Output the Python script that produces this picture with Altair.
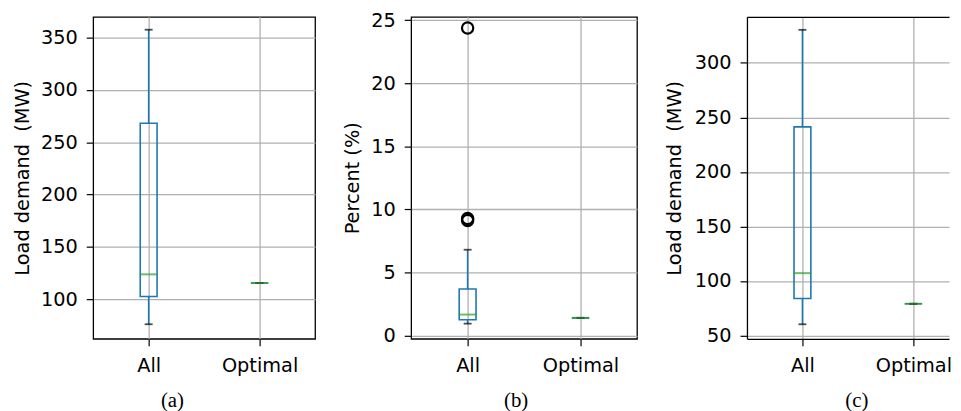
import altair as alt
import pandas as pd

labels = ["All", "Optimal"]

# panel (a): load demand (MW)
a_low = [76.0, 115.4]
a_q1 = [102.5, 115.4]
a_med = [123.7, 115.4]
a_q3 = [268.2, 115.4]
a_high = [357.6, 115.4]
a_domain = [62.1, 369.9]
a_ticks = [100, 150, 200, 250, 300, 350]

# panel (b): percent (%)
b_low = [0.94, 1.40]
b_q1 = [1.25, 1.40]
b_med = [1.66, 1.40]
b_q3 = [3.69, 1.40]
b_high = [6.80, 1.40]
b_out_labels = ["All", "All", "All"]
b_out = [9.12, 9.28, 24.38]
b_domain = [-0.26, 25.26]
b_ticks = [0, 5, 10, 15, 20, 25]

# panel (c): load demand (MW)
c_low = [60.3, 79.1]
c_q1 = [83.9, 79.1]
c_med = [107.2, 79.1]
c_q3 = [241.3, 79.1]
c_high = [330.3, 79.1]
c_domain = [47.0, 342.2]
c_ticks = [50, 100, 150, 200, 250, 300]

BLUE = "#1f77b4"
GREEN = "#2ca02c"
FONT = "DejaVu Sans"


def panel(low, q1, med, q3, high, out_labels, out_vals, domain, ticks,
          ytitle, caption, width, height, dx, title_pad, xscale, framed):
    df = pd.DataFrame({"label": labels, "low": low, "q1": q1, "med": med,
                       "q3": q3, "high": high})
    xenc = alt.X("label:N", sort=labels, scale=xscale,
                 axis=alt.Axis(title=None, labelAngle=0, grid=True,
                               orient="bottom", labelPadding=11,
                               domain=not framed, domainColor="black",
                               domainWidth=1.3))
    yscale = alt.Scale(domain=domain, nice=False, zero=False)
    yaxis = alt.Axis(title=ytitle, values=ticks, grid=True,
                     titlePadding=title_pad, domain=not framed,
                     domainColor="black", domainWidth=1.3)
    base = alt.Chart(df)
    whisk_hi = base.mark_rule(color=BLUE, strokeWidth=1.6).encode(
        x=xenc, y=alt.Y("q3:Q", scale=yscale, axis=yaxis), y2="high:Q")
    whisk_lo = base.mark_rule(color=BLUE, strokeWidth=1.6).encode(
        x=xenc, y=alt.Y("low:Q", scale=yscale, axis=yaxis), y2="q1:Q")
    box = base.mark_bar(fill="transparent", stroke=BLUE, strokeWidth=1.6,
                        size=17).encode(
        x=xenc, y=alt.Y("q1:Q", scale=yscale, axis=yaxis), y2="q3:Q")
    cap_hi = base.mark_tick(color="black", thickness=1.8, size=8,
                            orient="horizontal").encode(
        x=xenc, y=alt.Y("high:Q", scale=yscale, axis=yaxis))
    cap_lo = base.mark_tick(color="black", thickness=1.8, size=8,
                            orient="horizontal").encode(
        x=xenc, y=alt.Y("low:Q", scale=yscale, axis=yaxis))
    median = base.mark_tick(color=GREEN, thickness=2, size=18,
                            orient="horizontal").encode(
        x=xenc, y=alt.Y("med:Q", scale=yscale, axis=yaxis))
    layers = [whisk_hi, whisk_lo, box, cap_hi, cap_lo, median]
    if out_vals:
        odf = pd.DataFrame({"label": out_labels, "val": out_vals})
        fl = alt.Chart(odf).mark_point(shape="circle", filled=False,
                                       color="black", size=130,
                                       strokeWidth=2.2, opacity=1).encode(
            x=xenc, y=alt.Y("val:Q", scale=yscale, axis=yaxis))
        layers.append(fl)
    title = alt.TitleParams(caption, orient="bottom",
                            font="Liberation Serif", fontSize=21,
                            fontWeight="normal", color="black",
                            anchor="middle", frame="group",
                            dx=dx, offset=15)
    inner = alt.layer(*layers)
    if framed:
        return inner.properties(width=width, height=height, title=title)
    # last panel is cut off at its right side: top border drawn as a top axis line
    top = base.mark_rule(opacity=0).encode(
        x=alt.X("label:N", sort=labels, scale=xscale,
                axis=alt.Axis(orient="top", title=None, labels=False,
                              ticks=False, grid=False, domain=True,
                              domainColor="black", domainWidth=1.3)),
        y=alt.Y("med:Q", scale=yscale, axis=yaxis))
    return alt.layer(inner, top).resolve_axis(x="independent").properties(
        width=width, height=height, title=title,
        view=alt.ViewBackground(stroke="transparent"))


full_x = alt.Scale(type="point", padding=0.5)
cut_x = alt.Scale(type="point", padding=0.4107, align=0.6087)

pa = panel(a_low, a_q1, a_med, a_q3, a_high, [], [], a_domain, a_ticks,
           "Load demand \u00a0(MW)", "(a)", 224, 325, -32, 8, full_x, True)
pb = panel(b_low, b_q1, b_med, b_q3, b_high, b_out_labels, b_out, b_domain,
           b_ticks, "Percent (%)", "(b)", 228, 325, -8, 8, full_x, True)
pc = panel(c_low, c_q1, c_med, c_q3, c_high, [], [], c_domain, c_ticks,
           "Load demand \u00a0(MW)", "(c)", 204, 325, 9, 10, cut_x, False)

chart = alt.hconcat(pa, pb, pc, spacing=26).properties(
    padding={"left": 4, "top": -1, "right": 0, "bottom": 0}
).configure_view(
    stroke="black", strokeWidth=1.3
).configure_axis(
    labelFont=FONT, labelFontSize=19.5, labelColor="black",
    titleFont=FONT, titleFontSize=19.5, titleFontWeight="normal",
    titleColor="black",
    tickColor="black", tickSize=7, tickWidth=1.2,
    labelPadding=9,
    gridColor="#b0b0b0", gridWidth=1.3, gridOpacity=1
)

chart.save("out.html", embed_options={"renderer": "svg", "actions": False})
